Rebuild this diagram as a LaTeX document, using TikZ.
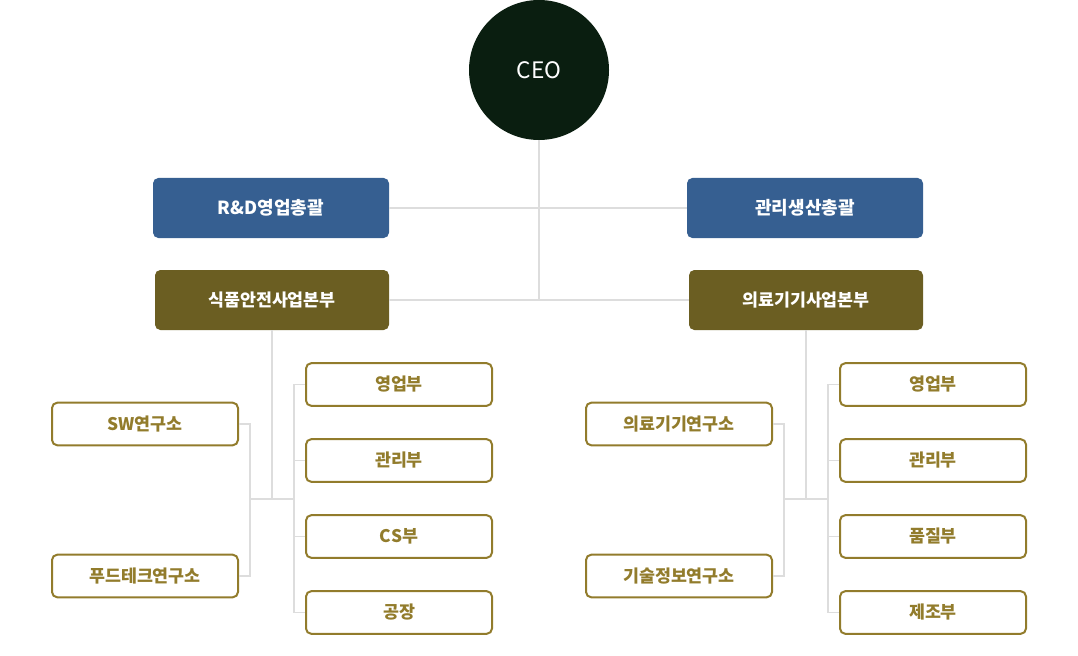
\documentclass[tikz,border=0pt]{standalone}
\usepackage{fontspec}
\setmainfont{Noto Sans CJK KR}
\usepackage{tikz}

\definecolor{ceogreen}{RGB}{10,30,16}
\definecolor{hqblue}{RGB}{54,95,145}
\definecolor{divolive}{RGB}{107,94,34}
\definecolor{deptgold}{RGB}{146,124,44}
\definecolor{linkgray}{RGB}{221,221,221}

\tikzset{
    ceo/.style={circle, fill=ceogreen, text=white, minimum size=105pt, inner sep=0pt, font=\fontsize{17}{20}\selectfont},
    headbox/.style={rounded corners=4pt, fill=hqblue, text=white, minimum width=177pt, minimum height=45pt, inner sep=0pt, font=\fontsize{13.5}{16}\selectfont\bfseries},
    divbox/.style={rounded corners=4pt, fill=divolive, text=white, minimum width=175.5pt, minimum height=45pt, inner sep=0pt, font=\fontsize{13}{16}\selectfont\bfseries},
    deptbox/.style={rounded corners=4pt, draw=deptgold, line width=1.5pt, fill=white, text=deptgold, minimum width=139.5pt, minimum height=32pt, inner sep=0pt, font=\fontsize{13}{16}\selectfont\bfseries},
    link/.style={linkgray, line width=1.1pt}
}

\begin{document}
\begin{tikzpicture}[x=0.75pt, y=-0.75pt]

    \useasboundingbox (0,0) rectangle (1078,656);

    % 1. CEO and the two top rows
    \node[ceo] (ceo) at (539,70) {CEO};

    \node[headbox] (rdhq) at (271,208) {R\&D영업총괄};
    \node[headbox] (mphq) at (805,208) {관리생산총괄};

    \node[divbox] (food) at (272,300) {식품안전사업본부};
    \node[divbox] (med)  at (806,300) {의료기기사업본부};

    \draw[link] (ceo.south) -- (ceo.south |- food.east);
    \draw[link] (rdhq.east) -- (mphq.west);
    \draw[link] (food.east) -- (med.west);

    % 2. Food safety division: labs on the left, departments on the right
    \node[deptbox] (swlab)   at (145,424) {SW연구소};
    \node[deptbox] (techlab) at (145,576) {푸드테크연구소};

    \foreach \name/\txt/\y in {fsales/영업부/384.5, fadmin/관리부/460.5, fcs/CS부/536.5, fplant/공장/612.5} {
        \node[deptbox] (\name) at (399,\y) {\txt};
    }

    \coordinate (fjl) at (250,499);
    \coordinate (fjr) at (294,499);

    \draw[link] (food.south) -- (food.south |- fjl);
    \draw[link] (swlab.east) -| (fjl) |- (techlab.east);
    \draw[link] (fjl) -- (fjr);
    \draw[link] (fsales.west) -| (fjr) |- (fplant.west);
    \draw[link] (fadmin.west) -- (fadmin.west -| fjr);
    \draw[link] (fcs.west) -- (fcs.west -| fjr);

    % 3. Medical device division: labs on the left, departments on the right
    \node[deptbox] (medlab)  at (679,424) {의료기기연구소};
    \node[deptbox] (infolab) at (679,576) {기술정보연구소};

    \foreach \name/\txt/\y in {msales/영업부/384.5, madmin/관리부/460.5, mqual/품질부/536.5, mmake/제조부/612.5} {
        \node[deptbox] (\name) at (933,\y) {\txt};
    }

    \coordinate (mjl) at (784,499);
    \coordinate (mjr) at (828,499);

    \draw[link] (med.south) -- (med.south |- mjl);
    \draw[link] (medlab.east) -| (mjl) |- (infolab.east);
    \draw[link] (mjl) -- (mjr);
    \draw[link] (msales.west) -| (mjr) |- (mmake.west);
    \draw[link] (madmin.west) -- (madmin.west -| mjr);
    \draw[link] (mqual.west) -- (mqual.west -| mjr);

\end{tikzpicture}
\end{document}
